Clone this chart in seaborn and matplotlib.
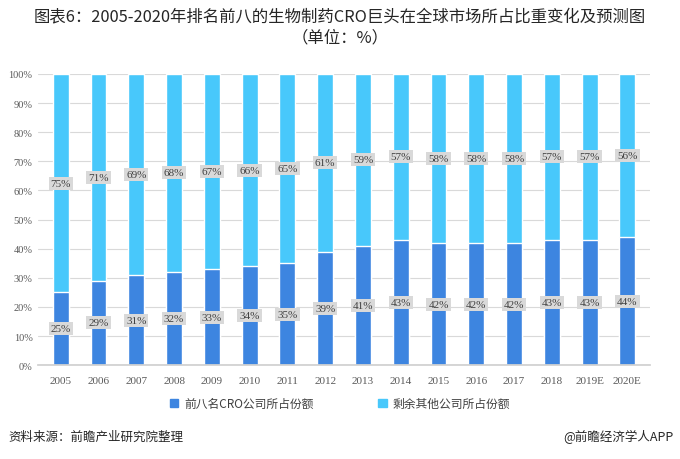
import pandas as pd
import numpy as np
import matplotlib
matplotlib.use("Agg")
import matplotlib.pyplot as plt
import seaborn as sns
from matplotlib.patches import Patch

# -----------------------------
# DATA
# -----------------------------
years = ["2005", "2006", "2007", "2008", "2009", "2010", "2011", "2012",
         "2013", "2014", "2015", "2016", "2017", "2018", "2019E", "2020E"]
top8_share = [25, 29, 31, 32, 33, 34, 35, 39, 41, 43, 42, 42, 42, 43, 43, 44]
other_share = [75, 71, 69, 68, 67, 66, 65, 61, 59, 57, 58, 58, 58, 57, 57, 56]

df = pd.DataFrame({"year": years, "top8": top8_share, "other": other_share})
df["total"] = df["top8"] + df["other"]

# -----------------------------
# STYLE
# -----------------------------
sns.set_theme(style="white")
plt.rcParams["font.family"] = ["Noto Sans CJK SC", "DejaVu Sans"]

dark_blue = "#3d85e0"
light_blue = "#48c8fb"

fig = plt.figure(figsize=(6.8, 4.6), dpi=100)
ax = fig.add_axes([0.056, 0.204, 0.90, 0.633])

# stacked bars: full height first, then the lower segment on top
sns.barplot(data=df, x="year", y="total", color=light_blue, width=0.42,
            saturation=1, ax=ax)
sns.barplot(data=df, x="year", y="top8", color=dark_blue, width=0.42,
            saturation=1, ax=ax)

# value labels
box = dict(boxstyle="square,pad=0.18", fc="#d9d9d9", ec="none")
for i, (b, t) in enumerate(zip(top8_share, other_share)):
    ax.text(i, b / 2, f"{b}%", ha="center", va="center", fontsize=8,
            family="Liberation Serif", color="#404040", bbox=box)
    ax.text(i, b + t / 2, f"{t}%", ha="center", va="center", fontsize=8,
            family="Liberation Serif", color="#404040", bbox=box)

ax.set_ylim(0, 100)
ax.set_xlim(-0.6, len(years) - 0.4)
ax.set_yticks(np.arange(0, 101, 10))
ax.set_yticklabels([f"{v}%" for v in range(0, 101, 10)],
                   family="Liberation Serif", fontsize=7.5, color="#595959")
ax.set_xticks(range(len(years)))
ax.set_xticklabels(years, family="Liberation Serif", fontsize=8, color="#595959")
ax.tick_params(axis="both", length=0, pad=4)
ax.tick_params(axis="x", pad=8)
ax.set_xlabel("")
ax.set_ylabel("")

ax.yaxis.grid(True, color="#d9d9d9", linewidth=0.8)
ax.set_axisbelow(True)
for s in ["top", "right", "left"]:
    ax.spines[s].set_visible(False)
ax.spines["bottom"].set_color("#d0d0d0")

# legend
handles = [Patch(color=dark_blue, label="前八名CRO公司所占份额"),
           Patch(color=light_blue, label="剩余其他公司所占份额")]
fig.legend(handles=handles, loc="center", bbox_to_anchor=(0.5, 0.12), ncol=2,
           frameon=False, fontsize=8.5, handlelength=0.7, handleheight=0.7,
           columnspacing=5.5, handletextpad=0.5, labelcolor="#404040")

# title and notes
fig.text(0.5, 0.963, "图表6：2005-2020年排名前八的生物制药CRO巨头在全球市场所占比重变化及预测图",
         ha="center", va="center", fontsize=11.8, color="#262626")
fig.text(0.5, 0.917, "（单位：%）", ha="center", va="center",
         fontsize=11.8, color="#262626")
fig.text(0.012, 0.05, "资料来源：前瞻产业研究院整理", ha="left", va="center",
         fontsize=9, style="italic", color="#262626")
fig.text(0.99, 0.05, "@前瞻经济学人APP", ha="right", va="center",
         fontsize=9, color="#262626")

plt.savefig("out.png", dpi=100)
